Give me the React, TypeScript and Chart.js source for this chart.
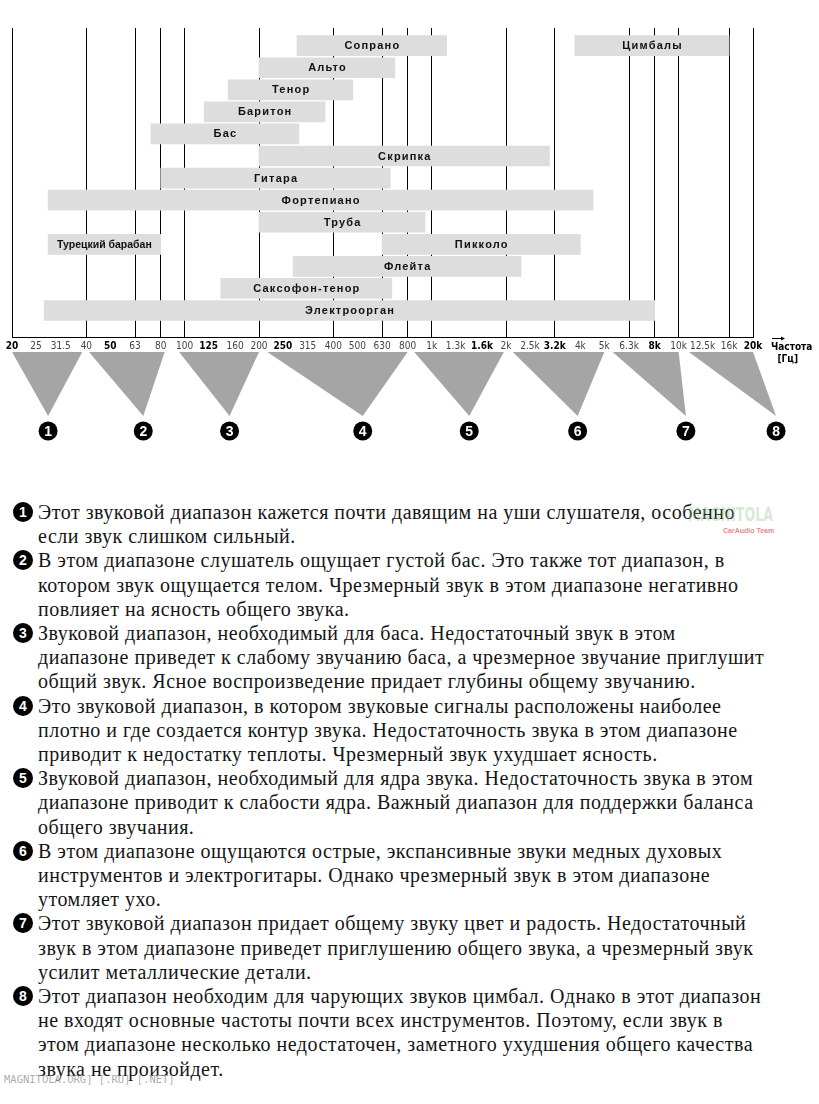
import React, { useEffect, useRef } from 'react';
import { Chart, registerables } from 'chart.js';

Chart.register(...registerables);

// ---- Axis (1/3-octave frequencies, Hz) ----
const tickValues = [20, 25, 31.5, 40, 50, 63, 80, 100, 125, 160, 200, 250, 315, 400, 500, 630, 800, 1000, 1250, 1600, 2000, 2500, 3150, 4000, 5000, 6300, 8000, 10000, 12500, 16000, 20000];
const tickLabels = ['20', '25', '31.5', '40', '50', '63', '80', '100', '125', '160', '200', '250', '315', '400', '500', '630', '800', '1k', '1.3k', '1.6k', '2k', '2.5k', '3.2k', '4k', '5k', '6.3k', '8k', '10k', '12.5k', '16k', '20k'];
const boldTickLabels = ['20', '50', '125', '250', '1.6k', '3.2k', '8k', '20k'];
const gridTickLabels = ['20', '40', '63', '80', '100', '200', '400', '630', '800', '1k', '2k', '3.2k', '6.3k', '8k', '10k', '16k', '20k'];

// ---- Instrument ranges (Hz) ----
const instruments = ['Сопрано', 'Цимбалы', 'Альто', 'Тенор', 'Баритон', 'Бас', 'Скрипка', 'Гитара', 'Фортепиано', 'Труба', 'Турецкий барабан', 'Пикколо', 'Флейта', 'Саксофон-тенор', 'Электроорган'];
const instrumentRow = [0, 0, 1, 2, 3, 4, 5, 6, 7, 8, 9, 9, 10, 11, 12];
const lowHz = [285, 3800, 200, 150, 120, 73, 200, 80, 28, 200, 28, 630, 275, 140, 27];
const highHz = [1150, 16000, 710, 480, 370, 290, 3000, 680, 4500, 940, 80, 4000, 2300, 690, 8000];

// ---- Numbered bands (Hz) ----
const bandNumbers = ['1', '2', '3', '4', '5', '6', '7', '8'];
const bandLowHz = [20, 41, 95, 216, 850, 2130, 5400, 11000];
const bandHighHz = [38.5, 83, 200, 800, 1960, 5000, 10000, 20000];
const bandPeakHz = [28, 68, 152, 526, 1420, 3900, 10700, 24800];

// ---- Descriptions ----
const paragraphs: string[][] = [
  ['Этот звуковой диапазон кажется почти давящим на уши слушателя, особенно', 'если звук слишком сильный.'],
  ['В этом диапазоне слушатель ощущает густой бас. Это также тот диапазон, в', 'котором звук ощущается телом. Чрезмерный звук в этом диапазоне негативно', 'повлияет на ясность общего звука.'],
  ['Звуковой диапазон, необходимый для баса. Недостаточный звук в этом', 'диапазоне приведет к слабому звучанию баса, а чрезмерное звучание приглушит', 'общий звук. Ясное воспроизведение придает глубины общему звучанию.'],
  ['Это звуковой диапазон, в котором звуковые сигналы расположены наиболее', 'плотно и где создается контур звука. Недостаточность звука в этом диапазоне', 'приводит к недостатку теплоты. Чрезмерный звук ухудшает ясность.'],
  ['Звуковой диапазон, необходимый для ядра звука. Недостаточность звука в этом', 'диапазоне приводит к слабости ядра. Важный диапазон для поддержки баланса', 'общего звучания.'],
  ['В этом диапазоне ощущаются острые, экспансивные звуки медных духовых', 'инструментов и электрогитары. Однако чрезмерный звук в этом диапазоне', 'утомляет ухо.'],
  ['Этот звуковой диапазон придает общему звуку цвет и радость. Недостаточный', 'звук в этом диапазоне приведет приглушению общего звука, а чрезмерный звук', 'усилит металлические детали.'],
  ['Этот диапазон необходим для чарующих звуков цимбал. Однако в этот диапазон', 'не входят основные частоты почти всех инструментов. Поэтому, если звук в', 'этом диапазоне несколько недостаточен, заметного ухудшения общего качества', 'звука не произойдет.'],
];

const NARROW = '"Liberation Sans Narrow", "DejaVu Sans Condensed", "Liberation Sans", Arial, sans-serif';
const SANS = '"Liberation Sans", Arial, sans-serif';

const overlayPlugin = {
  id: 'overlay',
  afterDatasetsDraw(chart: any) {
    const ctx = chart.ctx as CanvasRenderingContext2D;
    const meta = chart.getDatasetMeta(0);
    ctx.save();
    ctx.fillStyle = '#111';
    ctx.textAlign = 'center';
    ctx.textBaseline = 'middle';
    meta.data.forEach((el: any, i: number) => {
      const p = el.getProps(['x', 'base', 'y'], true);
      const left = Math.min(p.x, p.base);
      const right = Math.max(p.x, p.base);
      const cx = (left + right) / 2;
      const name = instruments[i];
      ctx.font = `bold 11px ${SANS}`;
      (ctx as any).letterSpacing = '1.2px';
      const w = ctx.measureText(name).width;
      let shift = 0.6;
      if (w > right - left - 4) {
        (ctx as any).letterSpacing = '0px';
        ctx.font = `bold 10.5px ${SANS}`;
        shift = 0;
      }
      ctx.fillText(name, cx + shift, p.y + 0.5);
    });
    (ctx as any).letterSpacing = '0px';
    ctx.restore();
  },
  afterDraw(chart: any) {
    const ctx = chart.ctx as CanvasRenderingContext2D;
    const xs = chart.scales.x;
    const area = chart.chartArea;
    const top = area.bottom + 15;
    const apexY = area.bottom + 79;
    const circleY = area.bottom + 94;
    ctx.save();
    // triangles
    ctx.fillStyle = '#a5a5a5';
    bandNumbers.forEach((_num, i) => {
      const x1 = xs.getPixelForValue(bandLowHz[i]);
      const x2 = xs.getPixelForValue(bandHighHz[i]);
      const xp = xs.getPixelForValue(bandPeakHz[i]);
      ctx.beginPath();
      ctx.moveTo(x1, top);
      ctx.lineTo(x2, top);
      ctx.lineTo(xp, apexY);
      ctx.closePath();
      ctx.fill();
    });
    // numbered circles
    bandNumbers.forEach((num, i) => {
      const xp = xs.getPixelForValue(bandPeakHz[i]);
      ctx.fillStyle = '#000';
      ctx.beginPath();
      ctx.arc(xp, circleY, 9.5, 0, Math.PI * 2);
      ctx.fill();
      ctx.fillStyle = '#fff';
      ctx.font = `bold 14px ${SANS}`;
      ctx.textAlign = 'center';
      ctx.textBaseline = 'middle';
      ctx.fillText(num, xp, circleY + 1);
    });
    // axis title with arrow
    const ax = area.right + 19;
    const ay = area.bottom + 1;
    ctx.strokeStyle = '#000';
    ctx.fillStyle = '#000';
    ctx.lineWidth = 1;
    ctx.beginPath();
    ctx.moveTo(ax, ay + 0.5);
    ctx.lineTo(ax + 10, ay + 0.5);
    ctx.stroke();
    ctx.beginPath();
    ctx.moveTo(ax + 13, ay + 0.5);
    ctx.lineTo(ax + 9, ay - 1.5);
    ctx.lineTo(ax + 9, ay + 2.5);
    ctx.closePath();
    ctx.fill();
    ctx.font = `bold 10px ${NARROW}`;
    ctx.textAlign = 'left';
    ctx.textBaseline = 'middle';
    ctx.fillText('Частота', area.right + 18, area.bottom + 10);
    ctx.textAlign = 'right';
    ctx.fillText('[Гц]', area.right + 45, area.bottom + 22);
    ctx.restore();
  },
};

function App() {
  const canvasRef = useRef<HTMLCanvasElement | null>(null);

  useEffect(() => {
    if (!canvasRef.current) return;
    const data = instruments.map((_, i) => ({ x: [lowHz[i], highHz[i]], y: instrumentRow[i] }));
    const chart = new Chart(canvasRef.current, {
      type: 'bar',
      data: {
        datasets: [
          {
            data: data as any,
            backgroundColor: '#dddddd',
            borderWidth: 0,
            barThickness: 20,
          },
        ],
      },
      options: {
        animation: false,
        responsive: false,
        maintainAspectRatio: false,
        indexAxis: 'y',
        layout: { padding: { left: 12, right: 66, top: 28, bottom: 115 } },
        plugins: { legend: { display: false }, tooltip: { enabled: false } },
        scales: {
          x: {
            type: 'logarithmic',
            min: 20,
            max: 20000,
            afterBuildTicks: (scale: any) => {
              scale.ticks = tickValues.map((v) => ({ value: v }));
            },
            ticks: {
              autoSkip: false,
              maxRotation: 0,
              minRotation: 0,
              padding: 3,
              callback: (_v: any, i: number) => tickLabels[i],
              font: (c: any) => ({
                family: NARROW,
                size: 10,
                weight: boldTickLabels.includes(tickLabels[c.index]) ? 'bold' : 'normal',
              }),
              color: (c: any) => (boldTickLabels.includes(tickLabels[c.index]) ? '#000' : '#444'),
            },
            grid: {
              drawTicks: false,
              lineWidth: 1,
              color: (c: any) => (gridTickLabels.includes(tickLabels[c.index]) ? '#000' : 'rgba(0,0,0,0)'),
            },
            border: { display: true, color: '#000', width: 1 },
          },
          y: {
            type: 'linear',
            min: -0.8,
            max: 13.2,
            reverse: true,
            offset: false,
            display: false,
          },
        },
      },
      plugins: [overlayPlugin],
    } as any);
    return () => chart.destroy();
  }, []);

  const lineH = 24.2;
  let lineIndex = 0;

  return (
    <div style={{ position: 'absolute', left: 0, top: 0, width: 819, height: 1104, background: '#fff' }}>
      <canvas ref={canvasRef} width={819} height={470} style={{ display: 'block', width: 819, height: 470 }} />
      <div
        style={{
          position: 'absolute',
          left: 0,
          top: 500,
          width: 819,
          fontFamily: '"Liberation Serif", "Times New Roman", serif',
          fontSize: 20,
          letterSpacing: '0.5px',
          lineHeight: `${lineH}px`,
          color: '#151515',
        }}
      >
        {paragraphs.map((lines, pi) => {
          const startTop = lineIndex * lineH;
          lineIndex += lines.length;
          return (
            <div key={pi} style={{ position: 'absolute', left: 0, top: startTop, width: 819 }}>
              <div
                style={{
                  position: 'absolute',
                  left: 13,
                  top: (lineH - 20) / 2,
                  width: 20,
                  height: 20,
                  borderRadius: 10,
                  background: '#000',
                  color: '#fff',
                  fontFamily: SANS,
                  fontWeight: 'bold',
                  fontSize: 14,
                  letterSpacing: 0,
                  lineHeight: '20px',
                  textAlign: 'center',
                }}
              >
                {pi + 1}
              </div>
              {lines.map((ln, li) => (
                <div key={li} style={{ position: 'absolute', left: 38, top: li * lineH, whiteSpace: 'nowrap' }}>
                  {ln}
                </div>
              ))}
            </div>
          );
        })}
      </div>
      <div
        style={{
          position: 'absolute',
          left: 688,
          top: 503,
          fontFamily: NARROW,
          fontWeight: 'bold',
          fontSize: 14,
          color: 'rgba(150,200,150,0.4)',
          lineHeight: '16px',
          transform: 'scale(1, 1.4)',
          transformOrigin: '0 0',
          whiteSpace: 'nowrap',
        }}
      >
        MAGNITOLA
      </div>
      <div
        style={{
          position: 'absolute',
          left: 723,
          top: 526,
          fontFamily: SANS,
          fontWeight: 'bold',
          fontSize: 7,
          color: 'rgba(220,90,100,0.75)',
          lineHeight: '9px',
          whiteSpace: 'nowrap',
        }}
      >
        CarAudio Team
      </div>
      <div
        style={{
          position: 'absolute',
          left: 4,
          top: 1072,
          fontFamily: '"DejaVu Sans Mono", monospace',
          fontSize: 10.5,
          color: 'rgba(150,150,150,0.8)',
          lineHeight: '14px',
          whiteSpace: 'nowrap',
        }}
      >
        MAGNITOLA.ORG] [.RU] [.NET]
      </div>
    </div>
  );
}

export default App;
